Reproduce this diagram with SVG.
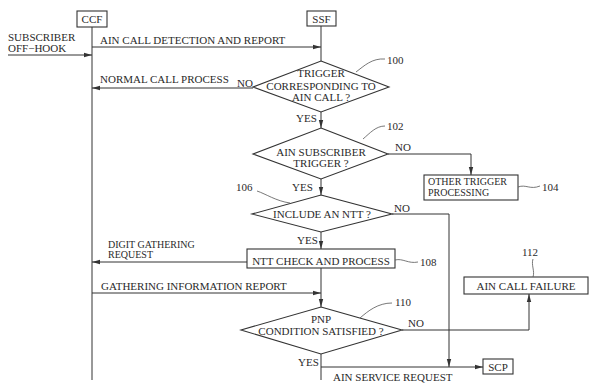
<svg xmlns="http://www.w3.org/2000/svg" width="590" height="383" viewBox="0 0 590 383">
<style>
text{font-family:"Liberation Serif","Times New Roman",serif;font-size:11px;fill:#2a2a2a}
.m{text-anchor:middle}
.s{font-size:10px}
.ln{fill:none;stroke:#333;stroke-width:1}
.shape{fill:#fff;stroke:#333;stroke-width:1.1}
.lead{fill:none;stroke:#555;stroke-width:0.8}
</style>
<defs>
<marker id="ar" viewBox="0 0 8 6" refX="8" refY="3" markerWidth="8" markerHeight="6" markerUnits="userSpaceOnUse" orient="auto">
<path d="M0,0.8 L8,3 L0,5.2 z" fill="#333"/>
</marker>
</defs>
<rect width="590" height="383" fill="#fff"/>

<g id="connectors">
<line class="ln" x1="92" y1="27" x2="92" y2="380"/>
<line class="ln" x1="321" y1="26" x2="321" y2="61"/>
<line class="ln" x1="8" y1="55" x2="92" y2="55" marker-end="url(#ar)"/>
<line class="ln" x1="92" y1="47" x2="321" y2="47" marker-end="url(#ar)"/>
<line class="ln" x1="253" y1="88" x2="92" y2="88" marker-end="url(#ar)"/>
<line class="ln" x1="321" y1="112" x2="321" y2="128" marker-end="url(#ar)"/>
<polyline class="ln" points="388,154 471,154 471,175" marker-end="url(#ar)"/>
<line class="ln" x1="321" y1="179" x2="321" y2="195" marker-end="url(#ar)"/>
<polyline class="ln" points="392,214 449,214 449,367" marker-end="url(#ar)"/>
<line class="ln" x1="321" y1="232" x2="321" y2="249" marker-end="url(#ar)"/>
<line class="ln" x1="247" y1="262" x2="92" y2="262" marker-end="url(#ar)"/>
<line class="ln" x1="92" y1="293" x2="321" y2="293" marker-end="url(#ar)"/>
<line class="ln" x1="321" y1="268" x2="321" y2="307" marker-end="url(#ar)"/>
<polyline class="ln" points="402,330 529,330 529,294" marker-end="url(#ar)"/>
<line class="ln" x1="321" y1="354" x2="321" y2="380"/>
<line class="ln" x1="321" y1="367" x2="483" y2="367" marker-end="url(#ar)"/>
</g>

<g id="labels">
<text x="8" y="41">SUBSCRIBER</text>
<text x="8" y="52">OFF−HOOK</text>
<text x="100" y="44">AIN CALL DETECTION  AND REPORT</text>
<text x="100" y="83">NORMAL CALL PROCESS</text>
<text x="237" y="87">NO</text>
<text x="296" y="122">YES</text>
<text x="395" y="151">NO</text>
<text x="292" y="191">YES</text>
<text x="394" y="212">NO</text>
<text x="297" y="244">YES</text>
<text class="s" x="108" y="248">DIGIT GATHERING</text>
<text class="s" x="108" y="258">REQUEST</text>
<text x="101" y="290">GATHERING INFORMATION REPORT</text>
<text x="408" y="327">NO</text>
<text x="298" y="366">YES</text>
<text x="333" y="381">AIN SERVICE REQUEST</text>
</g>

<g id="CCF">
<rect class="shape" x="77" y="11" width="30" height="16"/>
<text class="m" x="92" y="23">CCF</text>
</g>

<g id="SSF">
<rect class="shape" x="307" y="11" width="29" height="15"/>
<text class="m" x="321.5" y="22.5">SSF</text>
</g>

<g id="n100">
<polygon class="shape" points="321,61 389,87 321,112 253,87"/>
<text class="m" x="321" y="77">TRIGGER</text>
<text class="m" x="321" y="90">CORRESPONDING TO</text>
<text class="m" x="321" y="101">AIN CALL ?</text>
<path class="lead" d="M356,72 C364,66 372,58 385,59"/>
<text x="387" y="64">100</text>
</g>

<g id="n102">
<polygon class="shape" points="321,128 388,154 321,179 253,154"/>
<text class="m" x="321" y="156">AIN SUBSCRIBER</text>
<text class="m" x="321" y="167">TRIGGER ?</text>
<path class="lead" d="M363,139 C370,133 376,126 385,126"/>
<text x="387" y="130">102</text>
</g>

<g id="n104">
<rect class="shape" x="424" y="175" width="94" height="25"/>
<text class="s" x="428" y="185">OTHER TRIGGER</text>
<text class="s" x="428" y="196">PROCESSING</text>
<path class="lead" d="M518,187 C526,184 530,190 540,186"/>
<text x="542" y="191">104</text>
</g>

<g id="n106">
<polygon class="shape" points="321,195 392,214 321,232 252,214"/>
<text class="m" x="322" y="218">INCLUDE AN NTT ?</text>
<path class="lead" d="M257,191 C266,194 276,201 290,203"/>
<text x="236" y="191">106</text>
</g>

<g id="n108">
<rect class="shape" x="247" y="249" width="148" height="19"/>
<text class="m" x="321" y="265">NTT CHECK AND PROCESS</text>
<path class="lead" d="M395,260 C403,258 408,264 418,262"/>
<text x="420" y="266">108</text>
</g>

<g id="n110">
<polygon class="shape" points="321,307 402,330 321,354 241,330"/>
<text class="m" x="321" y="323">PNP</text>
<text class="m" x="321" y="335">CONDITION SATISFIED ?</text>
<path class="lead" d="M360,318 C368,311 378,303 392,303"/>
<text x="395" y="306">110</text>
</g>

<g id="n112">
<rect class="shape" x="464" y="277" width="124" height="17"/>
<text class="m" x="526" y="290">AIN CALL FAILURE</text>
<path class="lead" d="M533,259 C531,265 535,271 533,277"/>
<text x="522" y="256">112</text>
</g>

<g id="SCP">
<rect class="shape" x="483" y="359" width="30" height="15"/>
<text class="m" x="498" y="370.5">SCP</text>
</g>
</svg>
